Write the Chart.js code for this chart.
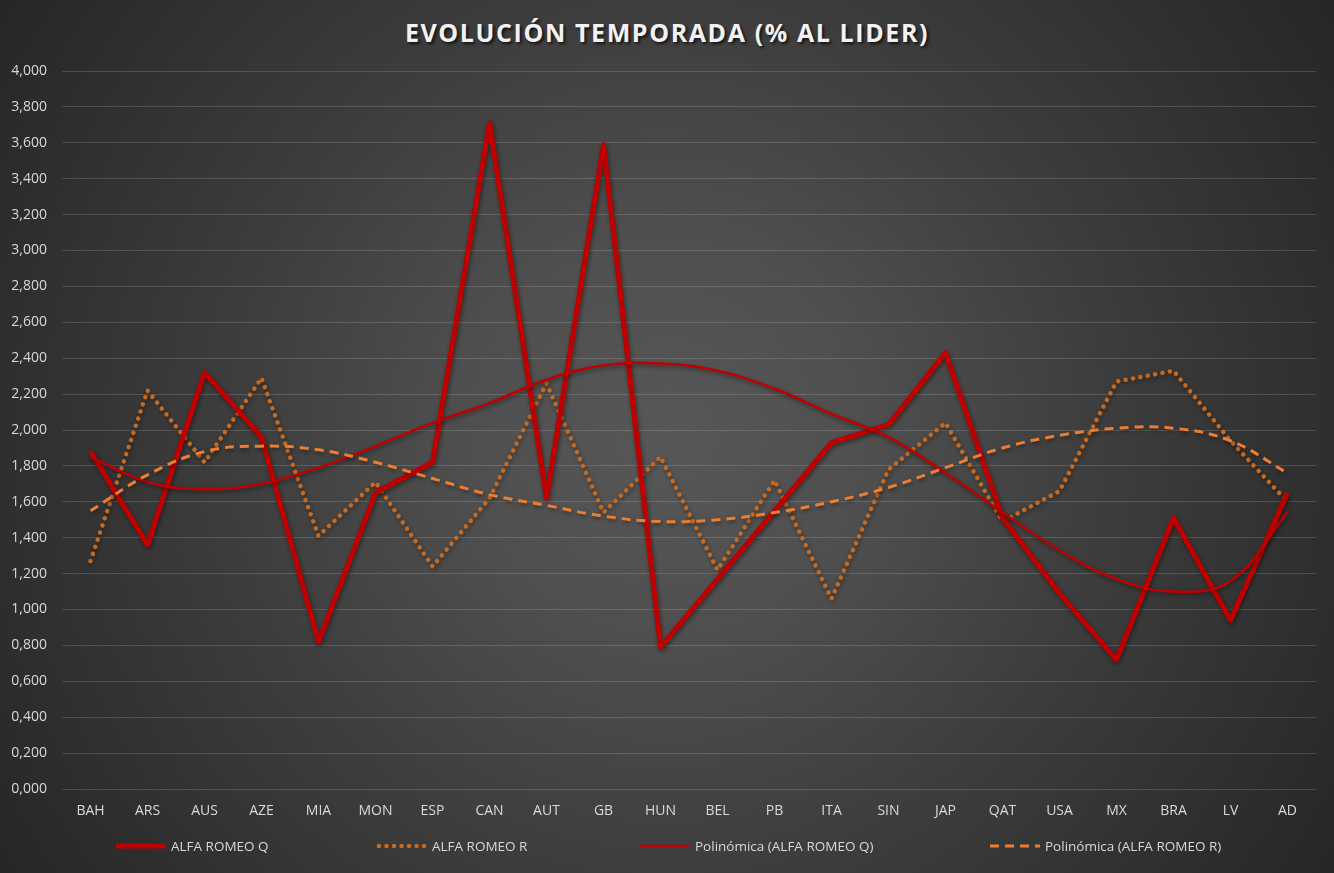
<!DOCTYPE html>
<html lang="es">
<head>
  <meta charset="UTF-8" />
  <title>Evolución temporada (% al lider)</title>
  <script src="https://cdn.jsdelivr.net/npm/chart.js"></script>
  <style>
    html, body {
      margin: 0;
      padding: 0;
    }
    body {
      width: 1334px;
      height: 873px;
      position: relative;
      overflow: hidden;
      font-family: "Open Sans", Arial, sans-serif;
      background: radial-gradient(circle farthest-corner at 50% 50%, #575757 0%, #4f4f4f 25%, #3d3d3d 55%, #2e2e2e 84%, #262626 100%);
    }
    #title {
      position: absolute;
      top: 16px;
      left: 0;
      width: 1334px;
      text-align: center;
      color: #f2f2f2;
      font-size: 25px;
      font-weight: 700;
      letter-spacing: 1.6px;
      line-height: 32px;
      text-shadow: 2px 2px 3px rgba(0, 0, 0, 0.7);
    }
    #chart {
      position: absolute;
      left: 0;
      top: 0;
    }
    .leg {
      position: absolute;
      top: 836px;
      display: flex;
      align-items: center;
      color: #d9d9d9;
      font-size: 13.5px;
      height: 20px;
      white-space: nowrap;
    }
    .leg svg {
      margin-right: 4px;
    }
  </style>
</head>
<body>
  <div id="title">EVOLUCIÓN TEMPORADA (% AL LIDER)</div>
  <canvas id="chart" width="1334" height="873"></canvas>

  <!-- legend, drawn as html under the plot -->
  <div class="leg" style="left:115px">
    <svg width="52" height="10"><line x1="1" y1="5" x2="51" y2="5" stroke="#c00000" stroke-width="5"/></svg>ALFA ROMEO Q
  </div>
  <div class="leg" style="left:376px">
    <svg width="52" height="10"><line x1="3" y1="5" x2="50" y2="5" stroke="#c8691e" stroke-width="4.5" stroke-linecap="round" stroke-dasharray="0.01 7.5"/></svg>ALFA ROMEO R
  </div>
  <div class="leg" style="left:639px">
    <svg width="52" height="10"><line x1="1" y1="5" x2="51" y2="5" stroke="#c00000" stroke-width="2.5"/></svg>Polinómica (ALFA ROMEO Q)
  </div>
  <div class="leg" style="left:989px">
    <svg width="52" height="10"><line x1="1" y1="5" x2="51" y2="5" stroke="#ed7d31" stroke-width="3" stroke-dasharray="9 6"/></svg>Polinómica (ALFA ROMEO R)
  </div>

  <script>
    // grand prix of the season
    const categories = ['BAH', 'ARS', 'AUS', 'AZE', 'MIA', 'MON', 'ESP', 'CAN', 'AUT', 'GB', 'HUN',
                        'BEL', 'PB', 'ITA', 'SIN', 'JAP', 'QAT', 'USA', 'MX', 'BRA', 'LV', 'AD'];

    // % gap to the leader, qualifying and race
    const alfaQ = [1.88, 1.36, 2.32, 1.96, 0.82, 1.65, 1.82, 3.71, 1.62, 3.59, 0.79,
                   1.17, 1.55, 1.93, 2.03, 2.43, 1.51, 1.09, 0.72, 1.51, 0.94, 1.65];
    const alfaR = [1.27, 2.22, 1.82, 2.29, 1.41, 1.71, 1.24, 1.62, 2.26, 1.54, 1.85,
                   1.22, 1.72, 1.06, 1.78, 2.04, 1.49, 1.66, 2.27, 2.33, 1.94, 1.60];

    // polynomial trend lines
    const trendQ = [1.85, 1.71, 1.67, 1.70, 1.79, 1.91, 2.04, 2.15, 2.28, 2.36, 2.37,
                    2.33, 2.23, 2.09, 1.96, 1.76, 1.54, 1.33, 1.17, 1.10, 1.16, 1.54];
    const trendR = [1.55, 1.75, 1.88, 1.91, 1.89, 1.82, 1.73, 1.64, 1.58, 1.52, 1.49,
                    1.50, 1.54, 1.60, 1.68, 1.79, 1.90, 1.97, 2.01, 2.01, 1.94, 1.76];

    // y ticks go 0,000 .. 4,000
    const yMin = 0, yMax = 4, yStep = 0.2;

    const labelColor = '#d9d9d9';
    const tickFont = { family: '"Open Sans", Arial, sans-serif', size: 14 };

    // soft shadow under the lines, like the excel original
    const lineShadow = {
      id: 'lineShadow',
      beforeDatasetDraw(chart) {
        const ctx = chart.ctx;
        ctx.save();
        ctx.shadowColor = 'rgba(0,0,0,0.45)';
        ctx.shadowBlur = 4;
        ctx.shadowOffsetX = 1;
        ctx.shadowOffsetY = 2;
      },
      afterDatasetDraw(chart) {
        chart.ctx.restore();
      }
    };

    new Chart(document.getElementById('chart'), {
      type: 'line',
      data: {
        labels: categories,
        datasets: [
          {
            label: 'ALFA ROMEO Q',
            data: alfaQ,
            borderColor: '#c00000',
            borderWidth: 5,
            borderJoinStyle: 'round',
            pointRadius: 0,
            tension: 0,
            order: 2
          },
          {
            label: 'ALFA ROMEO R',
            data: alfaR,
            borderColor: '#c8691e',
            borderWidth: 4.5,
            borderDash: [0.01, 7.5],
            borderCapStyle: 'round',
            borderJoinStyle: 'round',
            pointRadius: 0,
            tension: 0,
            order: 3
          },
          {
            label: 'Polinómica (ALFA ROMEO Q)',
            data: trendQ,
            borderColor: '#c00000',
            borderWidth: 2.5,
            pointRadius: 0,
            tension: 0.4,
            order: 1
          },
          {
            label: 'Polinómica (ALFA ROMEO R)',
            data: trendR,
            borderColor: '#ed7d31',
            borderWidth: 3,
            borderDash: [9, 6],
            pointRadius: 0,
            tension: 0.4,
            order: 0
          }
        ]
      },
      options: {
        responsive: false,
        animation: false,
        layout: {
          padding: { top: 71, right: 18, bottom: 0, left: 0 }
        },
        plugins: {
          legend: { display: false },
          title: { display: false },
          tooltip: { enabled: false }
        },
        scales: {
          x: {
            offset: true,
            grid: { display: false, drawTicks: false },
            border: { display: false },
            ticks: {
              color: labelColor,
              font: tickFont,
              padding: 14,
              maxRotation: 0,
              autoSkip: false
            },
            afterFit(scale) { scale.height = 84; }
          },
          y: {
            min: yMin,
            max: yMax,
            grid: {
              color: 'rgba(255,255,255,0.15)',
              lineWidth: 1,
              drawTicks: false
            },
            border: { display: false },
            ticks: {
              stepSize: yStep,
              color: labelColor,
              font: tickFont,
              padding: 15,
              callback: v => v.toFixed(3).replace('.', ',')
            },
            afterFit(scale) { scale.width = 62; }
          }
        }
      },
      plugins: [lineShadow]
    });
  </script>
</body>
</html>
